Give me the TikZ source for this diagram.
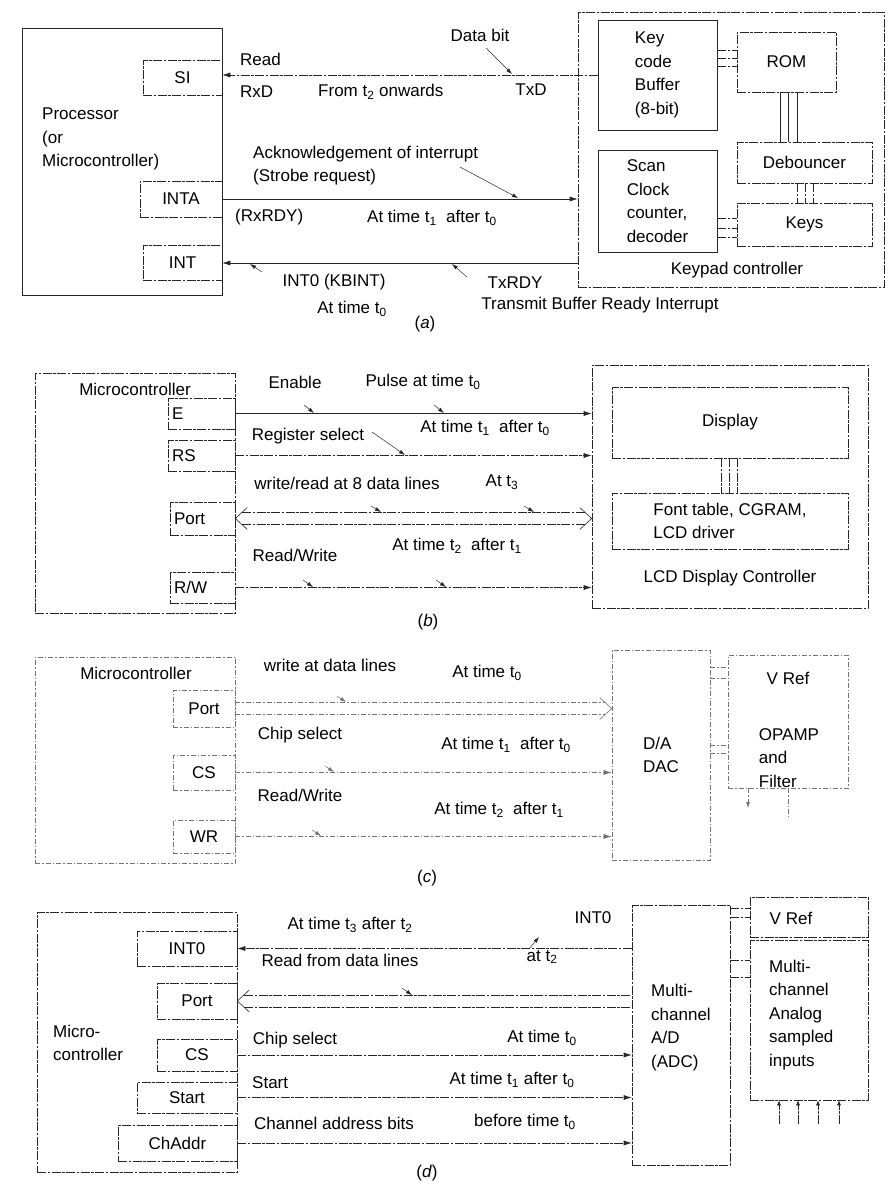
\documentclass[tikz,border=0pt]{standalone}
\usepackage{fontspec}
\setmainfont{Liberation Sans}
\usetikzlibrary{arrows.meta}

\begin{document}
\begin{tikzpicture}[x=1pt,y=-1pt,
  every node/.style={font=\fontsize{17}{23.5}\selectfont, inner sep=0pt},
  sol/.style={draw=black!85, line width=0.6pt},
  blk/.style={sol, dash pattern=on 9pt off 1.5pt on 2.5pt off 1.5pt},
  pale/.style={draw=black!55, line width=0.6pt, dash pattern=on 5pt off 2pt on 1.5pt off 2pt},
  pin/.style={blk, text width=#1, inner xsep=4pt, align=left},
  sig/.style={line width=0.6pt, draw=black!85, -{Latex[length=8pt,width=5pt]}},
  dsig/.style={sig, dash pattern=on 9pt off 1.5pt on 2.5pt off 1.5pt},
  ptr/.style={line width=0.5pt, draw=black!85, -{Latex[length=6pt,width=4pt]}},
]
\useasboundingbox (0,0) rectangle (890,1184);

% (a) keypad controller
\node[sol, minimum width=200pt, minimum height=267pt] (proc) at (122,161.5) {};
\node[anchor=west, align=left] (proctxt) at (42,139) {Processor\\(or\\Microcontroller)};
\node[blk, minimum width=79pt, minimum height=35pt] (si) at (182.5,77.5) {SI};
\node[blk, minimum width=82pt, minimum height=36pt] (inta) at (181,199) {INTA};
\node[blk, minimum width=79pt, minimum height=35pt] (int) at (182.5,263) {INT};

\node[blk, minimum width=306pt, minimum height=275pt] (kpc) at (731,149.5) {};
\node[sol, minimum width=119pt, minimum height=110pt, align=left] (kcb) at (657.5,75) {Key\\code\\Buffer\\(8-bit)};
\node[blk, minimum width=99pt, minimum height=60pt] (rom) at (786.5,62) {ROM};
\node[blk, minimum width=135pt, minimum height=41pt] (deb) at (804.5,162.5) {Debouncer};
\node[blk, minimum width=135pt, minimum height=43pt] (keys) at (804.5,224.5) {Keys};
\node[sol, minimum width=119pt, minimum height=102pt, align=left] (scan) at (657.5,201) {Scan\\Clock\\counter,\\decoder};
\node (kpctxt) at (737,270) {Keypad controller};

\foreach \y in {50,58,66} \draw[blk] (kcb.east |- 0,\y) -- (rom.west |- 0,\y);
\foreach \x in {780,788,797} \draw[sol] (rom.south -| \x,0) -- (deb.north -| \x,0);
\foreach \x in {797,805,813} \draw[blk] (deb.south -| \x,0) -- (keys.north -| \x,0);
\foreach \y in {218,228,237} \draw[blk] (scan.east |- 0,\y) -- (keys.west |- 0,\y);

\draw[dsig] (kcb.west) -- (kcb.west -| si.east);
\draw[sig] (inta.east) -- (inta.east -| kpc.west);
\draw[sig] (int.east -| kpc.west) -- (int.east);

\node[anchor=west] (read) at (240,59) {Read};
\node[anchor=west] (rxd) at (240,92) {RxD};
\node[anchor=west] (fromt) at (318,92) {From t\textsubscript{2} onwards};
\node (txd) at (531,90) {TxD};
\node (databit) at (480,35) {Data bit};
\draw[ptr] (486,48) -- (512,74);
\node[anchor=west, align=left] (ack) at (253,165.5) {Acknowledgement of interrupt\\(Strobe request)};
\draw[ptr] (460,167) -- (518,198);
\node[anchor=west] (rxrdy) at (235,217) {(RxRDY)};
\node[anchor=west] (tonea) at (367,218) {At time t\textsubscript{1}~~after t\textsubscript{0}};
\node (kbint) at (334,282) {INT0 (KBINT)};
\node (tzeroa) at (352,309) {At time t\textsubscript{0}};
\draw[ptr] (262,272) -- (250,264);
\node (txrdy) at (515,283) {TxRDY};
\node (tbri) at (600,305) {Transmit Buffer Ready Interrupt};
\draw[ptr] (467,277) -- (452,264);
\node (capa) at (425,324) {(\textit{a})};

% (b) LCD display controller
\node[blk, minimum width=200pt, minimum height=240pt] (mcb) at (135,493) {};
\node (mcbtxt) at (135,389) {Microcontroller};
\node[pin=59pt, minimum height=31pt] (e) at (201.5,413.5) {E};
\node[pin=59pt, minimum height=31pt] (rs) at (201.5,455.5) {RS};
\node[pin=57pt, minimum height=33pt] (port) at (202.5,518.5) {Port};
\node[pin=57pt, minimum height=31pt] (rw) at (202.5,587.5) {R/W};

\node[blk, minimum width=276pt, minimum height=243pt] (lcd) at (730,486.5) {};
\node[blk, minimum width=236pt, minimum height=71pt] (disp) at (730,422.5) {Display};
\node[blk, minimum width=236pt, minimum height=56pt, align=left] (font) at (730,521) {Font table, CGRAM,\\LCD driver};
\node (lcdtxt) at (730,578) {LCD Display Controller};
\foreach \x in {721,729,737} \draw[blk] (disp.south -| \x,0) -- (font.north -| \x,0);

\draw[sig] (e.east) -- (e.east -| lcd.west);
\draw[dsig] (rs.east) -- (rs.east -| lcd.west);
\coordinate (bl) at (port.east);
\coordinate (br) at (port.east -| lcd.west);
\draw[blk] ([shift={(7,-6)}]bl) -- ([shift={(-7,-6)}]br);
\draw[blk] ([shift={(7,6)}]bl) -- ([shift={(-7,6)}]br);
\draw[sol] ([shift={(12,-11)}]bl) -- (bl) -- ([shift={(12,11)}]bl);
\draw[sol] ([shift={(-12,-11)}]br) -- (br) -- ([shift={(-12,11)}]br);
\draw[dsig] (rw.east) -- (rw.east -| lcd.west);

\node (enable) at (295,382) {Enable};
\node (pulse) at (423,382) {Pulse at time t\textsubscript{0}};
\draw[ptr] (304,405) -- (314,413);
\draw[ptr] (434,405) -- (444,413);
\node (regsel) at (308,436) {Register select};
\node (toneb) at (485,428) {At time t\textsubscript{1}~~after t\textsubscript{0}};
\draw[ptr] (372,432) -- (405,455);
\node (wrlines) at (347,483) {write/read at 8 data lines};
\node (tthree) at (502,482) {At t\textsubscript{3}};
\draw[ptr] (371,506) -- (381,512);
\draw[ptr] (524,506) -- (534,512);
\node (rwb) at (295,555) {Read/Write};
\node (ttwob) at (457,546) {At time t\textsubscript{2}~~after t\textsubscript{1}};
\draw[ptr] (303,580) -- (313,587);
\draw[ptr] (436,580) -- (446,587);
\node (capb) at (428,622) {(\textit{b})};

% (c) DAC
\node[pale, minimum width=200pt, minimum height=206pt] (mcc) at (135,760) {};
\node (mcctxt) at (136,673) {Microcontroller};
\node[pale, minimum width=62pt, minimum height=37pt] (portc) at (204,708.5) {Port};
\node[pale, minimum width=62pt, minimum height=35pt] (csc) at (204,772.5) {CS};
\node[pale, minimum width=62pt, minimum height=33pt] (wr) at (204,836.5) {WR};

\node[pale, minimum width=98pt, minimum height=210pt, align=left] (dac) at (661,755) {D/A\\DAC};
\node[pale, minimum width=120pt, minimum height=133pt] (opamp) at (788,721.5) {};
\node (vrefc) at (788,678) {V Ref};
\node[align=left] (opamptxt) at (789,758) {OPAMP\\and\\Filter};
\foreach \y in {667,678} \draw[pale] (dac.east |- 0,\y) -- (opamp.west |- 0,\y);
\foreach \y in {745,753} \draw[pale] (dac.east |- 0,\y) -- (opamp.west |- 0,\y);
\draw[pale, -{Latex[length=6pt,width=4pt]}] (opamp.south -| 748,0) -- (748,808);
\draw[pale] (opamp.south -| 788,0) -- (788,817);

\coordinate (cl) at (portc.east);
\coordinate (cr) at (portc.east -| dac.west);
\draw[pale] (cl |- 0,702.5) -- ([shift={(-7,-6)}]cr);
\draw[pale] (cl |- 0,714.5) -- ([shift={(-7,6)}]cr);
\draw[pale, solid] ([shift={(-12,-11)}]cr) -- (cr) -- ([shift={(-12,11)}]cr);
\draw[sig, draw=black!55, dash pattern=on 5pt off 2pt on 1.5pt off 2pt] (csc.east) -- (csc.east -| dac.west);
\draw[sig, draw=black!55, dash pattern=on 5pt off 2pt on 1.5pt off 2pt] (wr.east) -- (wr.east -| dac.west);

\node (wdata) at (330,665) {write at data lines};
\node (tzeroc) at (487,673) {At time t\textsubscript{0}};
\draw[ptr, draw=black!55] (337,696) -- (346,702);
\node (chipc) at (300,735) {Chip select};
\node (tonec) at (506,745) {At time t\textsubscript{1}~~after t\textsubscript{0}};
\draw[ptr, draw=black!55] (325,766) -- (334,772);
\node (rwc) at (300,795) {Read/Write};
\node (ttwoc) at (499,810) {At time t\textsubscript{2}~~after t\textsubscript{1}};
\draw[ptr, draw=black!55] (312,830) -- (321,836);
\node (capc) at (427,878) {(\textit{c})};

% (d) ADC
\node[blk, minimum width=200pt, minimum height=260pt] (mcd) at (137,1042) {};
\node[anchor=west, align=left] (mcdtxt) at (53,1043) {Micro-\\controller};
\node[blk, minimum width=100pt, minimum height=35pt] (intz) at (187,948.5) {INT0};
\node[blk, minimum width=80pt, minimum height=36pt] (portd) at (197,1001) {Port};
\node[blk, minimum width=80pt, minimum height=32pt] (csd) at (197,1055) {CS};
\node[blk, minimum width=100pt, minimum height=31pt] (start) at (187,1097.5) {Start};
\node[blk, minimum width=119pt, minimum height=36pt] (chaddr) at (177.5,1143) {ChAddr};

\node[blk, minimum width=98pt, minimum height=260pt] (adc) at (681,1035) {};
\node[align=left] (adctxt) at (681,1027.5) {Multi-\\channel\\A/D\\(ADC)};
\node[blk, minimum width=118pt, minimum height=40pt] (vrefd) at (809,917) {};
\node (vrefdtxt) at (791,918) {V Ref};
\node[blk, minimum width=118pt, minimum height=160pt] (anlg) at (809,1020) {};
\node[anchor=west, align=left] (anlgtxt) at (769,1015) {Multi-\\channel\\Analog\\sampled\\inputs};
\foreach \y in {908,917} \draw[blk] (adc.east |- 0,\y) -- (vrefd.west |- 0,\y);
\foreach \y in {960,977} \draw[blk] (adc.east |- 0,\y) -- (anlg.west |- 0,\y);
\foreach \x in {779,798,818,839} \draw[blk, -{Latex[length=5pt,width=4pt]}] (\x,1124) -- (anlg.south -| \x,0);

\draw[dsig] (intz.east -| adc.west) -- (intz.east);
\coordinate (dl) at (portd.east);
\coordinate (dr) at (portd.east -| adc.west);
\draw[blk] ([shift={(7,-6)}]dl) -- (dr |- 0,995);
\draw[blk] ([shift={(7,6)}]dl) -- (dr |- 0,1007);
\draw[sol] ([shift={(12,-11)}]dl) -- (dl) -- ([shift={(12,11)}]dl);
\draw[dsig] (csd.east) -- (csd.east -| adc.west);
\draw[dsig] (start.east) -- (start.east -| adc.west);
\draw[dsig] (chaddr.east) -- (chaddr.east -| adc.west);

\node (tthreed) at (350,925) {At time t\textsubscript{3} after t\textsubscript{2}};
\node (intzd) at (593,918) {INT0};
\node (ttwod) at (542,957) {at t\textsubscript{2}};
\draw[ptr] (529,949) -- (539,937);
\node (rdata) at (340,960) {Read from data lines};
\draw[ptr] (402,988) -- (412,995);
\node (chipd) at (295,1040) {Chip select};
\node (tzerod) at (542,1038) {At time t\textsubscript{0}};
\node[anchor=west] (startd) at (252,1083) {Start};
\node (toned) at (512,1080) {At time t\textsubscript{1} after t\textsubscript{0}};
\node (chbits) at (334,1123) {Channel address bits};
\node (before) at (525,1122) {before time t\textsubscript{0}};
\node (capd) at (427,1173) {(\textit{d})};

\end{tikzpicture}
\end{document}
